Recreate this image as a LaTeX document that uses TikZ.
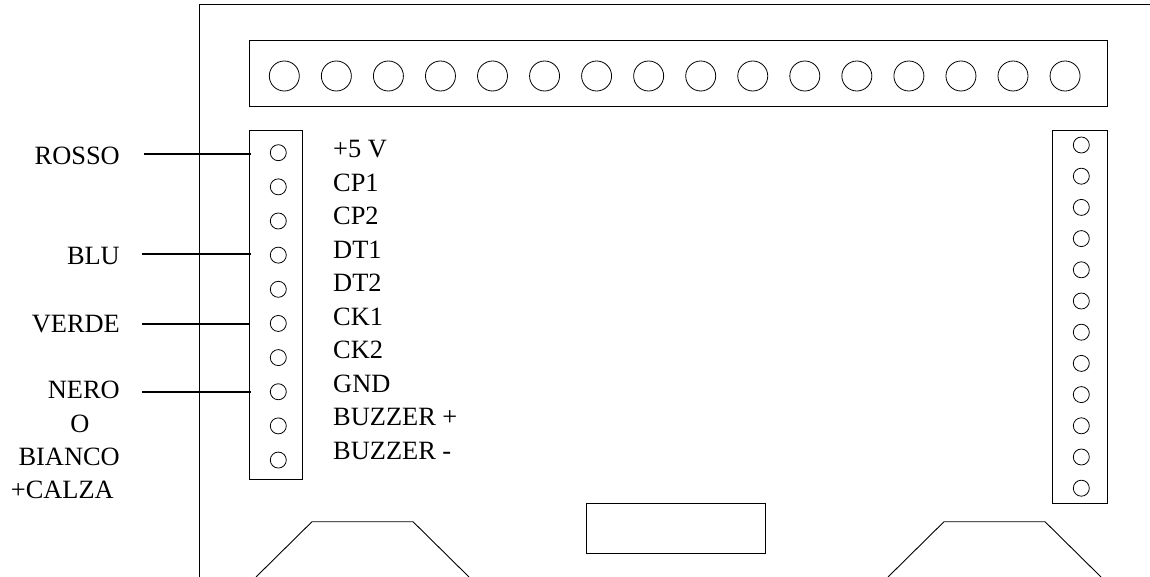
\documentclass[tikz,border=0pt]{standalone}
\usepackage{fontspec}
\setmainfont{Liberation Serif}
\tikzset{
	hole/.style={draw, circle, inner sep=0pt, line width=0.8pt},
	block/.style={draw, rectangle, inner sep=0pt, line width=1pt},
	wire/.style={line width=1.6pt},
	label/.style={inner sep=0pt, font=\fontsize{26.4}{30}\selectfont}
}
\begin{document}
\begin{tikzpicture}[x=1pt, y=-1pt]
		\useasboundingbox (0, 0) rectangle (1150, 577);
		\draw[line width=1pt] (199.5, 577) -- (199.5, 4.7) -- (1150, 4.7);
		% morsettiera in alto
		\node[block, minimum width=858.2pt, minimum height=66.3pt] (topblock) at (678.6, 73.8) {};
		\foreach \i in {0, ..., 15}
			\node[hole, minimum size=30pt] (top\i) at (284.3 + 52.05 * \i, 76) {};
		% connettore sinistro
		\node[block, minimum width=52.5pt, minimum height=348.6pt] (leftblock) at (275.8, 305) {};
		\foreach \i in {0, ..., 9}
			\node[hole, minimum size=16pt] (left\i) at (278.3, 152.7 + 34.15 * \i) {};
		% connettore destro
		\node[block, minimum width=55.4pt, minimum height=372.5pt] (rightblock) at (1080, 316.75) {};
		\foreach \i in {0, ..., 11}
			\node[hole, minimum size=16pt] (right\i) at (1081.3, 145 + 31.2 * \i) {};
		% segnali
		\foreach \name [count=\i from 0] in {+5 V, CP1, CP2, DT1, DT2, CK1, CK2, GND, BUZZER +, BUZZER -}
			\node[label, anchor=base west] (sig\i) at (333, 158 + 33.45 * \i) {\name};
		% cavi
		\node[label, anchor=base east] (rosso) at (120, 165) {ROSSO};
		\node[label, anchor=base east] (blu) at (120, 265) {BLU};
		\node[label, anchor=base east] (verde) at (120, 332) {VERDE};
		\node[label, anchor=base east] (nero) at (120, 398) {NERO};
		\node[label, anchor=base] (o) at (80, 432) {O};
		\node[label, anchor=base east] (bianco) at (120, 465) {BIANCO};
		\node[label, anchor=base east] (calza) at (114, 498) {+CALZA};
		\coordinate (wrosso) at (144, 154);
		\coordinate (wblu) at (142, 254);
		\coordinate (wverde) at (142, 324);
		\coordinate (wnero) at (142, 392);
		\draw[wire, shorten >=-1.5pt] (wrosso) -- (wrosso -| leftblock.west);
		\draw[wire, shorten >=-1.5pt] (wblu) -- (wblu -| leftblock.west);
		\draw[wire] (wverde) -- (wverde -| leftblock.west);
		\draw[wire, shorten >=-1.5pt] (wnero) -- (wnero -| leftblock.west);
		% connettori in basso
		\node[block, minimum width=179pt, minimum height=50pt] (midblock) at (675.5, 528) {};
		\foreach \x in {0, 632}
			\draw[line width=0.9pt] (256 + \x, 577) -- (312 + \x, 521.7) -- (413 + \x, 521.7) -- (469 + \x, 577);
	\end{tikzpicture}
\end{document}
